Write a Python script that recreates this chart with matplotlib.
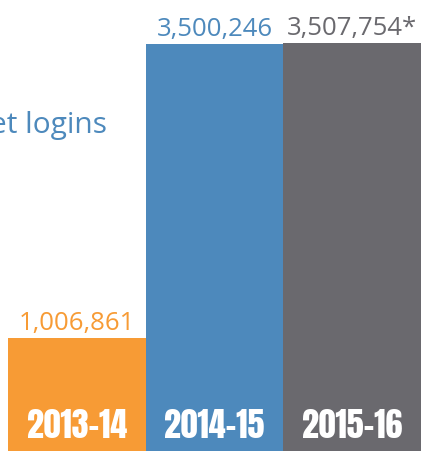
import matplotlib
matplotlib.use("Agg")
import matplotlib.pyplot as plt

years = ["2013-14", "2014-15", "2015-16"]
logins = [1006861, 3500246, 3507754]
value_labels = ["1,006,861", "3,500,246", "3,507,754*"]
colors = ["#F79B35", "#4D89BC", "#6A696E"]
side_text = "et logins"

year_font = ["Anton", "DejaVu Sans"]
label_font = ["Open Sans", "DejaVu Sans"]

fig = plt.figure(figsize=(4.24, 4.51), dpi=100)
ax = fig.add_axes([0, 0, 1, 1])
x = list(range(len(years)))
ax.bar(x, logins, width=1.0, color=colors, edgecolor="none")

ax.set_xlim(-0.5 - 8 / 138, 2.5 + 3 / 138)
unit = 3500246 / 413
ax.set_ylim(6 * unit, 457 * unit)
ax.axis("off")

for xi, v, lab, c in zip(x, logins, value_labels, colors):
    ax.annotate(lab, (xi, v), xytext=(0, 8), textcoords="offset pixels",
                ha="center", va="baseline", fontsize=18.5, color=c,
                family=label_font)
    ax.annotate(years[xi], (xi, 6 * unit), xytext=(0, 13), textcoords="offset pixels",
                ha="center", va="baseline", fontsize=24.5, color="white",
                family=year_font)

fig.text(107 / 424, 1 - 133 / 451, side_text, ha="right", va="baseline",
         fontsize=21.5, color="#4D89BC", family=label_font)

fig.savefig("out.png", dpi=100)
